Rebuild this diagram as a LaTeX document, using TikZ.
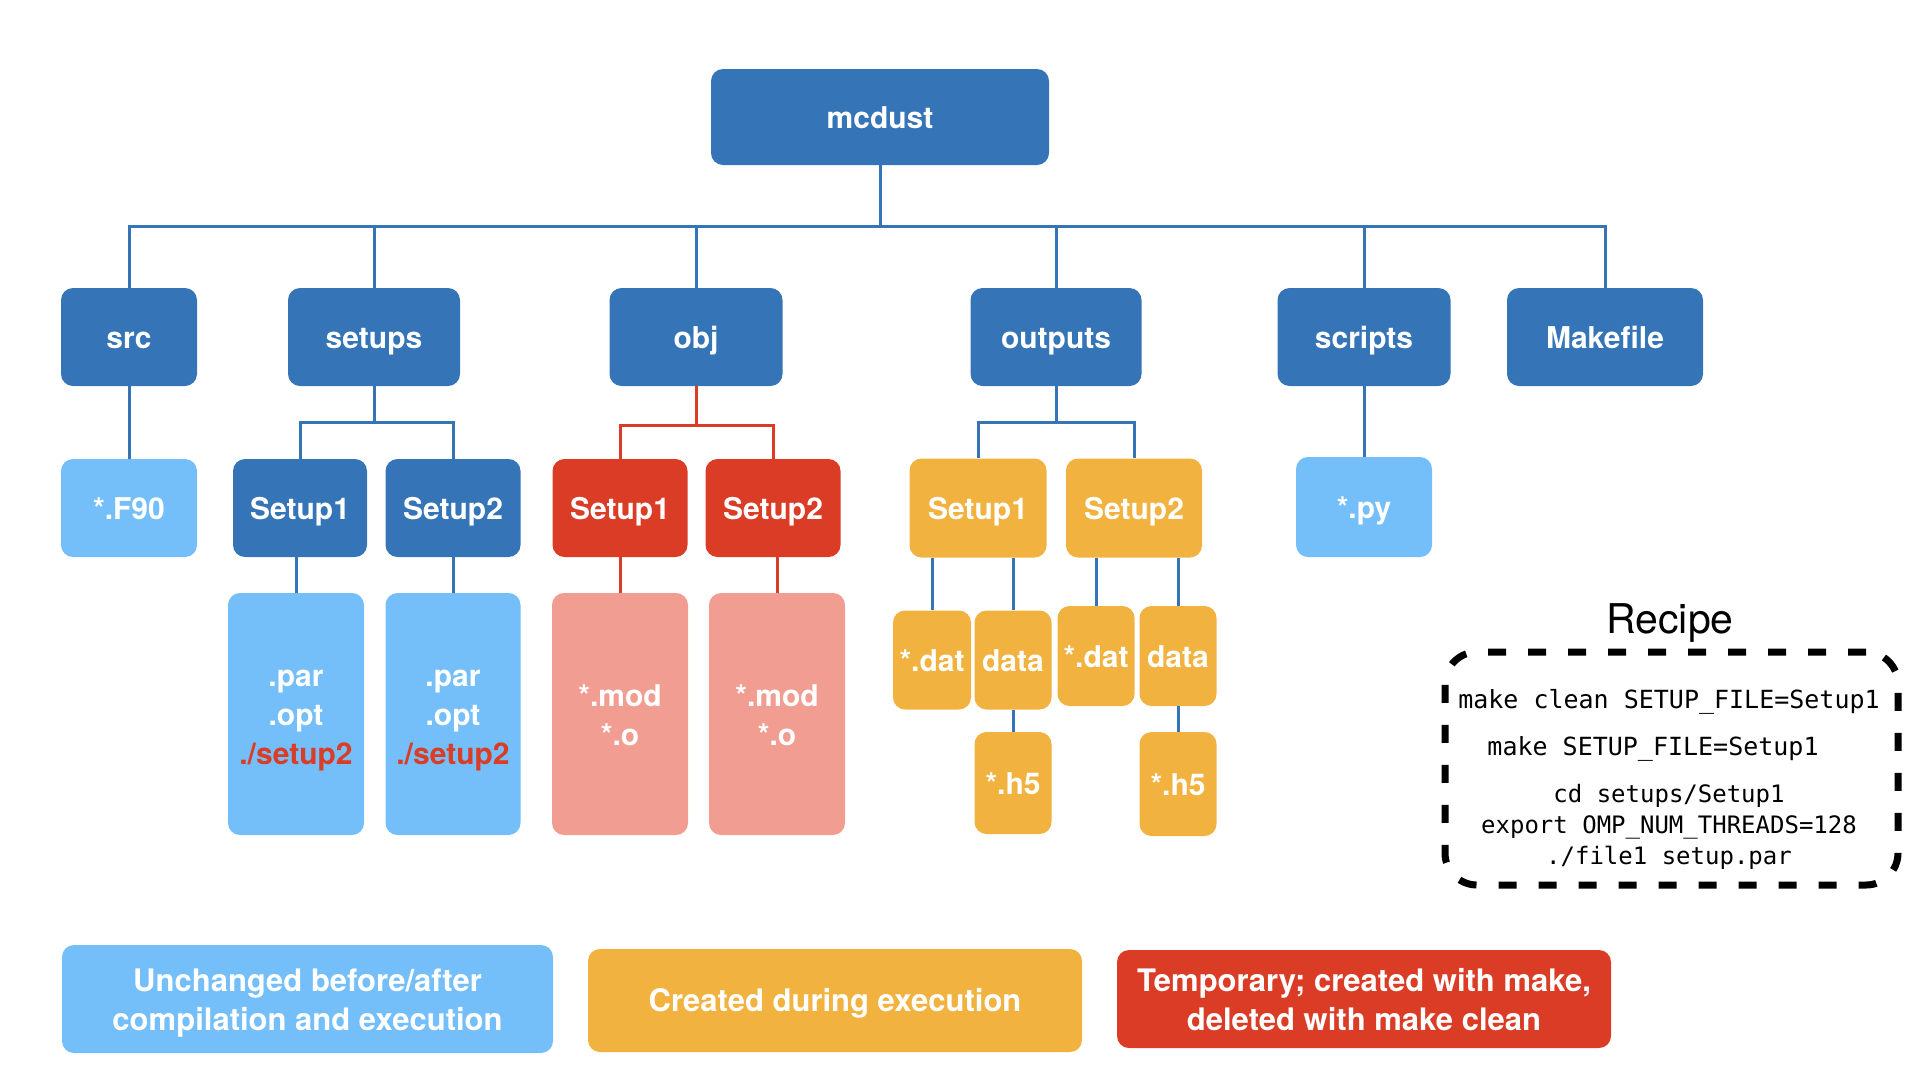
\documentclass[tikz,border=0pt]{standalone}
\usepackage{fontspec}
\setmainfont{TeX Gyre Heros}
\newfontfamily\recipemono{DejaVu Sans Mono}
\usepackage{tikz}
\definecolor{dirblue}{RGB}{52, 116, 183}
\definecolor{keepblue}{RGB}{116, 191, 249}
\definecolor{tempred}{RGB}{218, 60, 38}
\definecolor{objpink}{RGB}{241, 157, 146}
\definecolor{runorange}{RGB}{241, 178, 64}
\newcommand{\lines}[1]{\begin{tabular}{@{}c@{}}\rule{0pt}{35pt}#1\end{tabular}}

\begin{document}
\begin{tikzpicture}[
    x=1pt, y=-1pt,
    font=\fontsize{30}{39}\selectfont\bfseries,
    boxbase/.style={rounded corners=12pt, fill=#1, text=white, align=center, inner sep=0pt},
    box/.style={boxbase=#1, text height=22pt, text depth=0pt},
    box/.default=dirblue,
    panel/.style={boxbase=#1},
    boxsize/.style 2 args={minimum width=#1pt, minimum height=#2pt},
    link/.style={draw=#1, line width=3pt},
    link/.default=dirblue,
    frame/.style={draw=black, line width=7pt, dash pattern=on 18pt off 22pt,
        rounded corners=32pt, minimum width=453pt, minimum height=233pt}
]
    \useasboundingbox (0,0) rectangle (1920,1080);

    % --- Root ---
    \node[box, boxsize={338}{96}] (mcdust) at (880,117) {mcdust};

    % --- Level 1: top folders ---
    \node[box, boxsize={136}{98}] (src)      at (129,337)  {src};
    \node[box, boxsize={172}{98}] (setups)   at (374,337)  {setups};
    \node[box, boxsize={173}{98}] (obj)      at (696,337)  {obj};
    \node[box, boxsize={171}{98}] (outputs)  at (1056,337) {outputs};
    \node[box, boxsize={173}{98}] (scripts)  at (1364,337) {scripts};
    \node[box, boxsize={196}{98}] (makefile) at (1605,337) {Makefile};

    % --- Level 2 ---
    \node[box=keepblue, boxsize={136}{98}] (f90) at (129,508) {*.F90};
    \node[box, boxsize={134}{98}] (s_setup1) at (300,508) {Setup1};
    \node[box, boxsize={135}{98}] (s_setup2) at (453,508) {Setup2};
    \node[box=tempred, boxsize={135}{98}] (o_setup1) at (620,508) {Setup1};
    \node[box=tempred, boxsize={135}{98}] (o_setup2) at (773,508) {Setup2};
    \node[box=runorange, boxsize={137}{99}] (r_setup1) at (978,508)  {Setup1};
    \node[box=runorange, boxsize={136}{99}] (r_setup2) at (1134,508) {Setup2};
    \node[box=keepblue, boxsize={136}{100}] (py) at (1364,507) {*.py};

    % --- Level 3: files ---
    \node[panel=keepblue, boxsize={136}{242}] (s_files1) at (296,714)
        {\lines{.par\\.opt\\\textcolor{tempred}{./setup2}}};
    \node[panel=keepblue, boxsize={135}{242}] (s_files2) at (453,714)
        {\lines{.par\\.opt\\\textcolor{tempred}{./setup2}}};
    \node[panel=objpink, boxsize={136}{242}] (o_files1) at (620,714) {\lines{*.mod\\{}*.o}};
    \node[panel=objpink, boxsize={136}{242}] (o_files2) at (777,714) {\lines{*.mod\\{}*.o}};

    \node[box=runorange, boxsize={78}{99}]  (dat1)  at (932,660)  {*.dat};
    \node[box=runorange, boxsize={77}{99}]  (data1) at (1013,660) {data};
    \node[box=runorange, boxsize={77}{100}] (dat2)  at (1096,656) {*.dat};
    \node[box=runorange, boxsize={77}{100}] (data2) at (1178,656) {data};
    \node[box=runorange, boxsize={77}{102}] (h5a)   at (1013,783) {*.h5};
    \node[box=runorange, boxsize={77}{104}] (h5b)   at (1178,784) {*.h5};

    % --- Connectors: root bus ---
    \draw[link] (mcdust.south) -- ++(0,61) -| (src.north);
    \draw[link] (mcdust.south) -- ++(0,61) -| (setups.north);
    \draw[link] (mcdust.south) -- ++(0,61) -| (obj.north);
    \draw[link] (mcdust.south) -- ++(0,61) -| (outputs.north);
    \draw[link] (mcdust.south) -- ++(0,61) -| (scripts.north);
    \draw[link] (mcdust.south) -- ++(0,61) -| (makefile.north);

    % --- Connectors: level 1 -> 2 ---
    \draw[link] (src.south) -- (f90.north);
    \draw[link] (setups.south) -- ++(0,36) -| (s_setup1.north);
    \draw[link] (setups.south) -- ++(0,36) -| (s_setup2.north);
    \draw[link=tempred] (obj.south) -- ++(0,39) -| (o_setup1.north);
    \draw[link=tempred] (obj.south) -- ++(0,39) -| (o_setup2.north);
    \draw[link] (outputs.south) -- ++(0,36) -| (r_setup1.north);
    \draw[link] (outputs.south) -- ++(0,36) -| (r_setup2.north);
    \draw[link] (scripts.south) -- (py.north);

    % --- Connectors: level 2 -> 3 ---
    \draw[link] (s_files1.north) -- (s_files1.north |- s_setup1.south);
    \draw[link] (s_files2.north) -- (s_files2.north |- s_setup2.south);
    \draw[link=tempred] (o_files1.north) -- (o_files1.north |- o_setup1.south);
    \draw[link=tempred] (o_files2.north) -- (o_files2.north |- o_setup2.south);
    \draw[link] (dat1.north)  -- (dat1.north |- r_setup1.south);
    \draw[link] (data1.north) -- (data1.north |- r_setup1.south);
    \draw[link] (dat2.north)  -- (dat2.north |- r_setup2.south);
    \draw[link] (data2.north) -- (data2.north |- r_setup2.south);
    \draw[link] (h5a.north) -- (h5a.north |- data1.south);
    \draw[link] (h5b.north) -- (h5b.north |- data2.south);

    % --- Recipe ---
    \node[font=\fontsize{41}{49}\selectfont] (recipe_title) at (1670,623) {Recipe};
    \node[frame] (recipe) at (1671.5,768.5) {};
    \node[font=\recipemono\fontsize{25}{31}\selectfont, align=center, inner sep=0pt]
        (recipe_cmds) at (1669,779)
        {make clean SETUP\_FILE=Setup1\\[16pt]
         make SETUP\_FILE=Setup1\rule{32pt}{0pt}\\[16pt]
         \fontsize{24}{31}\selectfont cd setups/Setup1\\
         \fontsize{24}{31}\selectfont export OMP\_NUM\_THREADS=128\\
         \fontsize{24}{31}\selectfont ./file1 setup.par};

    % --- Legend ---
    \node[panel=keepblue, boxsize={491}{108}, font=\fontsize{31}{39}\selectfont\bfseries]
        (leg_keep) at (307.5,999) {\lines{Unchanged before/after\\compilation and execution}};
    \node[box=runorange, boxsize={494}{103}, font=\fontsize{31}{39}\selectfont\bfseries]
        (leg_run) at (835,1000.5) {Created during execution};
    \node[panel=tempred, boxsize={494}{98}, font=\fontsize{31}{39}\selectfont\bfseries]
        (leg_temp) at (1364,999) {\lines{Temporary; created with make,\\deleted with make clean}};

\end{tikzpicture}
\end{document}
